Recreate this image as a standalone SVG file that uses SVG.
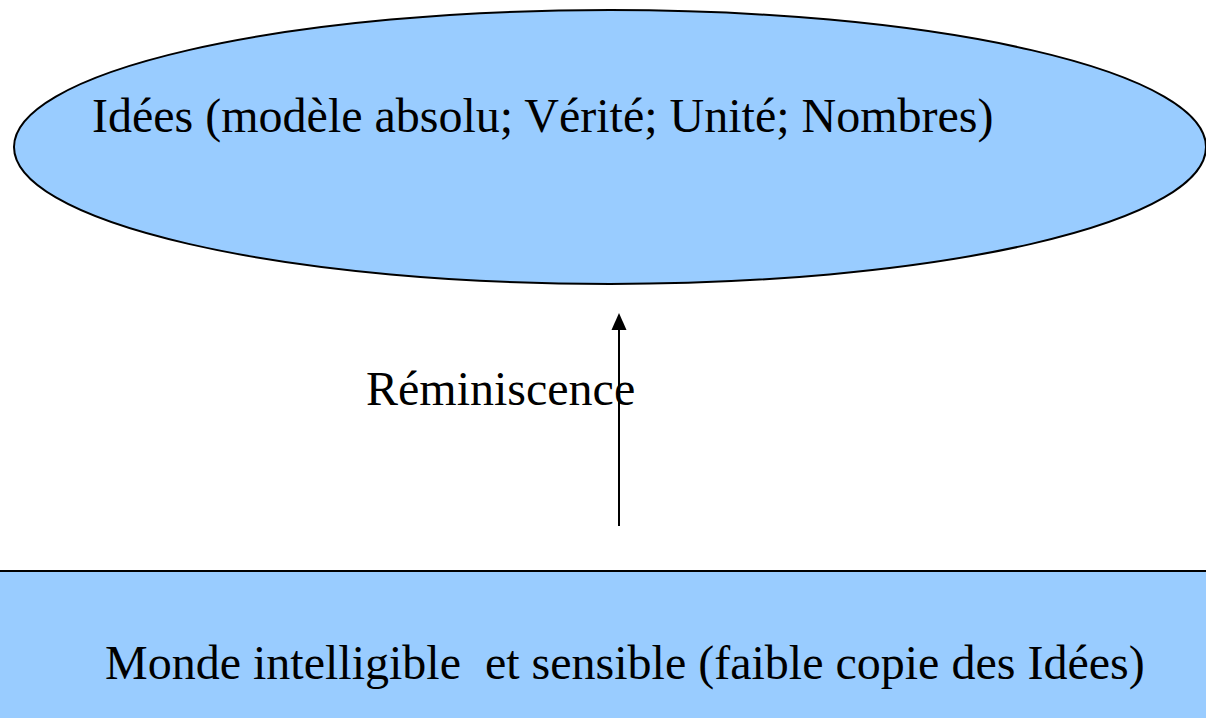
<svg xmlns="http://www.w3.org/2000/svg" width="1206" height="718" viewBox="0 0 1206 718">
<style>
.shape{fill:#99ccff;stroke:#000;stroke-width:2}
.t{font-family:"Liberation Serif","Times New Roman",serif;font-size:48px;fill:#000}
</style>
<rect width="1206" height="718" fill="#fff"/>
<g id="idees">
<ellipse class="shape" cx="610" cy="147" rx="596" ry="137"/>
<text class="t" x="92" y="132">Idées (modèle absolu; Vérité; Unité; Nombres)</text>
</g>
<g id="monde">
<rect class="shape" x="-10" y="571" width="1230" height="160"/>
<text class="t" x="105" y="679" xml:space="preserve">Monde intelligible  et sensible (faible copie des Idées)</text>
</g>
<g id="connectors">
<line x1="619" y1="526" x2="619" y2="330" stroke="#000" stroke-width="2"/>
<path d="M619,313 L611.5,330 L626.5,330 Z" fill="#000"/>
<text class="t" x="366" y="405">Réminiscence</text>
</g>
</svg>
